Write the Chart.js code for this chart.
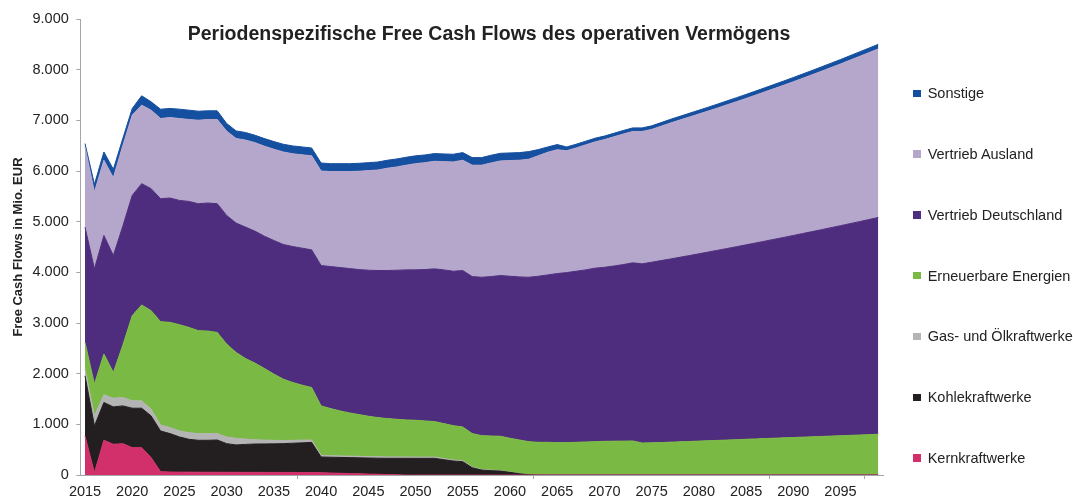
<!DOCTYPE html>
<html lang="de">
<head>
<meta charset="utf-8">
<title>Periodenspezifische Free Cash Flows</title>
<script src="https://cdn.jsdelivr.net/npm/chart.js@4.4.1/dist/chart.umd.min.js"></script>
<style>
  html, body { margin:0; padding:0; background:#fff; }
  #wrap { position:relative; width:1073px; height:497px; font-family:'Liberation Sans', Arial, sans-serif; color:#222; }
  #fcfChart { position:absolute; left:0; top:0; }
  #title { position:absolute; left:0; top:23.5px; width:978px; text-align:center; font-size:19.5px; font-weight:bold; line-height:19.5px; white-space:nowrap; }
  #legend { position:absolute; left:913px; top:62.9px; }
  #legend .item { height:60.8px; display:flex; align-items:center; font-size:14.5px; white-space:nowrap; }
  #legend .box { width:7.5px; height:7.5px; margin-right:7.2px; flex:none; }
</style>
</head>
<body>
<div id="wrap">
  <canvas id="fcfChart" width="1073" height="497"></canvas>
  <div id="title">Periodenspezifische Free Cash Flows des operativen Vermögens</div>
  <div id="legend"></div>
</div>
<script>
// --- Data (Mio. EUR, one value per year 2015..2099) ---
const years = [];
for(let y=2015;y<=2099;y++) years.push(String(y));

const kernkraftwerke = [
  771, 46, 686, 607, 620, 541, 541, 343, 66, 60,
  58, 57, 56, 55, 55, 54, 54, 53, 53, 52,
  52, 51, 51, 50, 50, 45, 40, 35, 30, 25,
  20, 15, 10, 5, 0, 0, 0, 0, 0, 0,
  0, 0, 0, 0, 0, 0, 0, 0, 0, 0,
  0, 0, 0, 0, 0, 0, 0, 0, 0, 0,
  0, 0, 0, 0, 0, 0, 0, 0, 0, 0,
  0, 0, 0, 0, 0, 0, 0, 0, 0, 0,
  0, 0, 0, 0, 0
];
const kohlekraftwerke = [
  1187, 923, 745, 738, 745, 778, 778, 824, 804, 758,
  694, 648, 630, 631, 637, 566, 540, 552, 559, 562,
  564, 569, 577, 585, 595, 311, 312, 313, 314, 315,
  316, 318, 320, 325, 330, 330, 330, 330, 303, 277,
  264, 145, 99, 86, 79, 53, 26, 6, 0, 0,
  0, 0, 0, 0, 0, 0, 0, 0, 0, 0,
  0, 0, 0, 0, 0, 0, 0, 0, 0, 0,
  0, 0, 0, 0, 0, 0, 0, 0, 0, 0,
  0, 0, 0, 0, 0
];
const gasOel = [
  132, 200, 152, 172, 165, 145, 145, 132, 119, 118,
  118, 132, 132, 132, 126, 132, 131, 105, 83, 76,
  69, 62, 57, 55, 47, 33, 30, 30, 30, 30,
  29, 29, 28, 28, 28, 25, 25, 25, 22, 20,
  20, 15, 11, 9, 7, 5, 2, 0, 0, 0,
  0, 0, 0, 0, 0, 0, 0, 0, 0, 0,
  0, 0, 0, 0, 0, 0, 0, 0, 0, 0,
  0, 0, 0, 0, 0, 0, 0, 0, 0, 0,
  0, 0, 0, 0, 0
];
const erneuerbare = [
  527, 625, 805, 507, 1030, 1681, 1893, 1945, 2038, 2077,
  2097, 2077, 2031, 2024, 1997, 1833, 1695, 1588, 1514, 1413,
  1307, 1211, 1141, 1084, 1035, 976, 930, 888, 853, 823,
  796, 772, 756, 743, 730, 727, 713, 700, 690, 678,
  665, 658, 668, 676, 679, 667, 664, 653, 646, 646,
  640, 640, 646, 653, 659, 666, 668, 670, 673, 633,
  635, 642, 649, 656, 663, 670, 677, 684, 691, 698,
  706, 713, 720, 727, 734, 741, 748, 755, 762, 769,
  776, 783, 790, 797, 805
];
const vertriebDeutschland = [
  2275, 2275, 2340, 2308, 2350, 2374, 2394, 2408, 2427, 2454,
  2453, 2486, 2506, 2526, 2540, 2539, 2552, 2595, 2604, 2611,
  2637, 2657, 2684, 2703, 2717, 2770, 2803, 2829, 2848, 2862,
  2881, 2902, 2922, 2941, 2961, 2968, 2987, 3014, 3034, 3047,
  3087, 3099, 3125, 3146, 3172, 3198, 3218, 3244, 3277, 3304,
  3336, 3356, 3376, 3396, 3423, 3434, 3457, 3484, 3515, 3535,
  3565, 3590, 3616, 3642, 3669, 3696, 3724, 3752, 3780, 3809,
  3837, 3866, 3896, 3926, 3956, 3987, 4018, 4049, 4081, 4113,
  4145, 4178, 4211, 4245, 4278
];
const vertriebAusland = [
  1583, 1516, 1484, 1537, 1590, 1583, 1549, 1549, 1583, 1589,
  1617, 1617, 1648, 1649, 1662, 1663, 1670, 1717, 1747, 1776,
  1801, 1825, 1830, 1843, 1856, 1865, 1875, 1895, 1915, 1940,
  1966, 1984, 2019, 2038, 2066, 2095, 2110, 2123, 2136, 2158,
  2176, 2198, 2212, 2243, 2263, 2284, 2303, 2330, 2380, 2420,
  2444, 2404, 2433, 2466, 2493, 2520, 2550, 2576, 2593, 2613,
  2621, 2652, 2683, 2709, 2734, 2759, 2783, 2809, 2836, 2862,
  2889, 2918, 2946, 2975, 3004, 3033, 3064, 3096, 3127, 3159,
  3191, 3226, 3260, 3293, 3327
];
const sonstige = [
  67, 152, 164, 165, 140, 132, 184, 165, 184, 178,
  184, 184, 178, 171, 171, 150, 150, 150, 146, 150,
  151, 153, 155, 155, 155, 158, 155, 155, 155, 157,
  157, 158, 157, 158, 156, 155, 152, 152, 152, 151,
  151, 150, 150, 151, 150, 150, 150, 150, 120, 105,
  102, 75, 73, 72, 72, 70, 70, 70, 70, 70,
  70, 71, 72, 73, 74, 75, 76, 77, 78, 79,
  80, 80, 81, 82, 83, 84, 85, 85, 86, 87,
  88, 88, 89, 90, 90
];

// bottom -> top
const seriesNames  = ['Kernkraftwerke','Kohlekraftwerke','Gas- und Ölkraftwerke','Erneuerbare Energien','Vertrieb Deutschland','Vertrieb Ausland','Sonstige'];
const seriesValues = [kernkraftwerke, kohlekraftwerke, gasOel, erneuerbare, vertriebDeutschland, vertriebAusland, sonstige];
const seriesColors = ['#D1306B','#231F20','#B4B4B4','#7AB943','#4F2D7E','#B5A7CB','#1550A0'];

const FONT = "'Liberation Sans', Arial, sans-serif";
const AXIS = '#A6A6A6';
const fmt = v => String(v).replace(/\B(?=(\d{3})+(?!\d))/g, '.');

// --- Chart ---
new Chart(document.getElementById('fcfChart'), {
  type: 'line',
  data: {
    labels: years,
    datasets: seriesValues.map((vals,i)=>({
      label: seriesNames[i],
      data: vals,
      backgroundColor: seriesColors[i],
      borderColor: seriesColors[i],
      borderWidth: 1,
      pointRadius: 0,
      pointHoverRadius: 0,
      tension: 0,
      fill: i===0 ? 'origin' : '-1'
    }))
  },
  options: {
    responsive: false,
    animation: false,
    layout: { padding: { left: 0, top: 19, right: 190, bottom: -8 } },
    plugins: { legend: { display: false }, tooltip: { enabled: false } },
    scales: {
      x: {
        type: 'category',
        offset: true,
        grid: {
          offset: true, drawOnChartArea: false, drawTicks: true, tickLength: 4,
          color: c => (c.index === undefined || c.index % 5 === 0) ? AXIS : 'rgba(0,0,0,0)'
        },
        border: { display: true, color: AXIS, width: 1 },
        ticks: {
          autoSkip: false, maxRotation: 0, minRotation: 0, padding: 5,
          color: '#222', font: { family: FONT, size: 14.5, lineHeight: 1.1 },
          callback: (v, i) => i % 5 === 0 ? years[i] : null
        }
      },
      y: {
        stacked: true,
        min: 0, max: 9000,
        grid: { drawOnChartArea: false, drawTicks: true, tickLength: 4, color: AXIS },
        border: { display: true, color: AXIS, width: 1 },
        ticks: {
          stepSize: 1000, padding: 7.5,
          color: '#222', font: { family: FONT, size: 14.5 },
          callback: v => fmt(v)
        },
        title: {
          display: true, text: 'Free Cash Flows in Mio. EUR', color: '#222',
          font: { family: FONT, size: 13, weight: 'bold' },
          padding: { top: 11, bottom: -1.6 }
        }
      }
    }
  }
});

// --- Legend (top -> bottom, like the original) ---
const legend = document.getElementById('legend');
for(let i=seriesNames.length-1;i>=0;i--){
  const row=document.createElement('div');
  row.className='item';
  row.innerHTML=`<span class="box" style="background:${seriesColors[i]}"></span><span>${seriesNames[i]}</span>`;
  legend.appendChild(row);
}
</script>
</body>
</html>
